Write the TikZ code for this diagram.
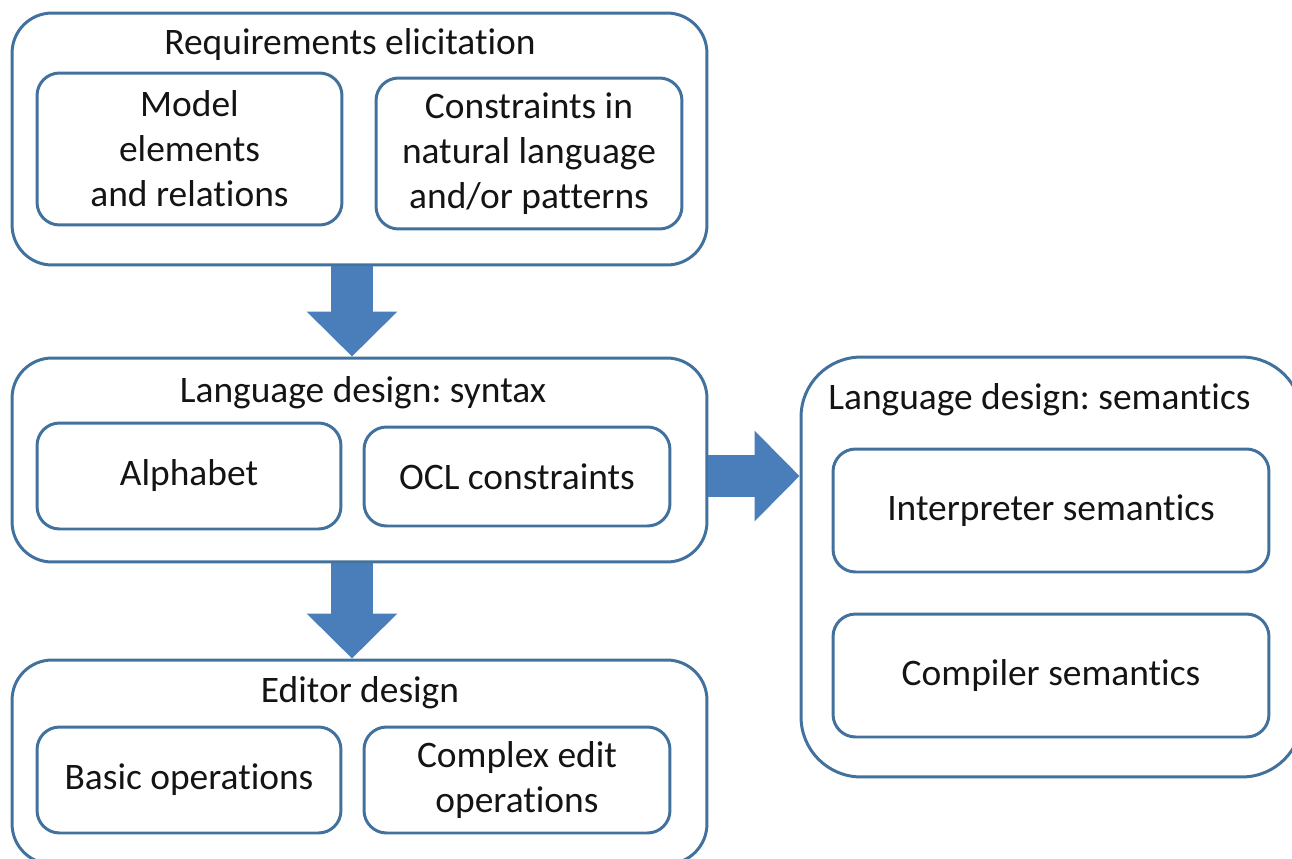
\documentclass[tikz,border=0pt]{standalone}
\usepackage{fontspec}
\setmainfont{Carlito}[Ligatures=NoCommon]
\usepackage{xcolor}
\usetikzlibrary{arrows.meta}
\definecolor{boxline}{HTML}{41719C}
\definecolor{boxfill}{HTML}{4A7EBB}
\definecolor{ink}{HTML}{141414}
\frenchspacing

\begin{document}
\begin{tikzpicture}[x=0.02cm,y=-0.02cm]
\tikzstyle{phase}=[draw=boxline,line width=1.7pt,rounded corners=0.8cm,minimum width=13.9cm,inner sep=0pt]
\tikzstyle{task}=[draw=boxline,line width=1.7pt,rounded corners=0.45cm,align=center,text=ink,inner sep=0pt]
\tikzstyle{heading}=[text=ink,inner sep=0pt]
\tikzstyle{fat}=[draw=boxfill,line width=0.84cm,-{Triangle[length=0.9cm,width=1.76cm]}]
	\useasboundingbox (0,0) rectangle (1292,859);
	\fontsize{21.3}{25.6}\selectfont
\par
	\node[phase,minimum height=5.04cm] (R) at (359.5,139) {};
	\node[heading] (Rt) at (350,45) {Requirements elicitation};
	\node[task,minimum width=6.1cm,minimum height=3.04cm] (Rm) at (189.5,149) {Model\\elements\\and relations};
	\node[task,minimum width=6.12cm,minimum height=3.02cm] (Rc) at (529,153.5) {Constraints in\\natural language\\and/or patterns};
\par
	\node[phase,minimum height=4.08cm] (S) at (359.5,460) {};
	\node[heading] (St) at (363,393) {Language design: syntax};
	\node[task,minimum width=6.08cm,minimum height=2.12cm] (Sa) at (189,476) {Alphabet};
	\node[task,minimum width=6.12cm,minimum height=1.98cm] (So) at (517,476.5) {OCL constraints};
\par
	\node[phase,minimum height=4.08cm] (E) at (359.5,762) {};
	\node[heading] (Et) at (360,693) {Editor design};
	\node[task,minimum width=6.08cm,minimum height=2.12cm] (Eb) at (189,780) {Basic operations};
	\node[task,minimum width=6.12cm,minimum height=2.12cm] (Ec) at (517,780) {Complex edit\\operations};
\par
	\node[phase,rounded corners=1.2cm,minimum width=10.02cm,minimum height=8.4cm] (L) at (1051.5,567) {};
	\node[heading,anchor=west] (Lt) at (828,400) {Language design: semantics};
	\node[task,minimum width=8.72cm,minimum height=2.46cm] (Li) at (1051,510.5) {Interpreter semantics};
	\node[task,minimum width=8.72cm,minimum height=2.46cm] (Lc) at (1051,675.5) {Compiler semantics};
\par
	\draw[fat] ([xshift=-0.15cm]R.south) -- ([xshift=-0.15cm]S.north);
	\draw[fat] ([xshift=-0.15cm]S.south) -- ([xshift=-0.15cm]E.north);
	\draw[fat] ([yshift=-0.32cm]S.east) -- ([yshift=-0.32cm]S.east -| L.west);
\end{tikzpicture}
\end{document}
